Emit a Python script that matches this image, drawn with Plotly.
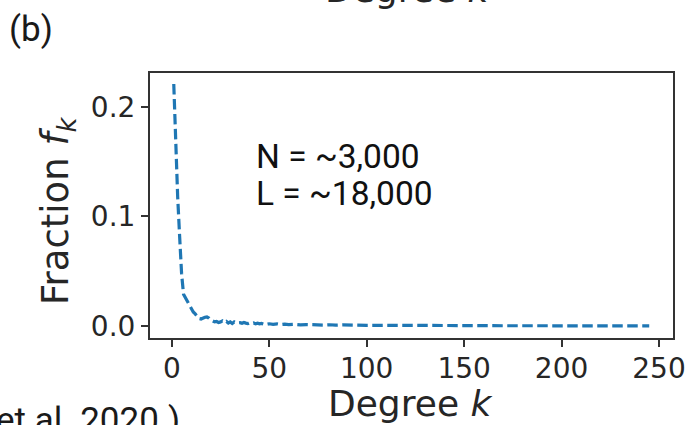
import plotly.graph_objects as go

# Degree distribution f_k of the network (fraction of nodes with degree k)
degree_k = [1, 2, 3, 4, 5, 6, 7, 8, 9, 10,
            11, 12, 13, 14, 15, 16, 17, 18, 19, 20,
            21, 22, 23, 24, 25, 26, 27, 28, 29, 30,
            31, 32, 33, 34, 35, 36, 37, 38, 39, 40,
            41, 42, 43, 44, 45, 46, 47, 48, 49, 50,
            52, 54, 56, 58, 60, 63, 66, 69, 72, 75,
            78, 81, 84, 88, 92, 96, 100, 110, 120, 130,
            140, 150, 160, 170, 180, 190, 200, 210, 220, 230, 245]
fraction_fk = [0.221, 0.162, 0.118, 0.082, 0.048, 0.029, 0.0255, 0.0224, 0.020, 0.0155,
               0.0128, 0.011, 0.009, 0.0068, 0.0064, 0.0073, 0.008, 0.0082, 0.0073, 0.0055,
               0.0046, 0.0037, 0.0041, 0.0032, 0.0037, 0.0046, 0.0032, 0.0041, 0.0027, 0.0037,
               0.0023, 0.0037, 0.0027, 0.0032, 0.0030, 0.0024, 0.0032, 0.0026, 0.0021, 0.0028,
               0.0022, 0.0027, 0.0020, 0.0025, 0.0019, 0.0023, 0.0017, 0.0022, 0.0016, 0.0020,
               0.0015, 0.0019, 0.0013, 0.0017, 0.0012, 0.0015, 0.0010, 0.0013, 0.0009, 0.0012,
               0.0008, 0.0011, 0.0007, 0.0010, 0.0006, 0.0008, 0.0005, 0.0006, 0.0004, 0.0004,
               0.0003, 0.0003, 0.0003, 0.0002, 0.0002, 0.0002, 0.0002, 0.0001, 0.0001, 0.0001, 0.0001]

x_ticks = [0, 50, 100, 150, 200, 250]
y_ticks = [0.0, 0.1, 0.2]
y_tick_text = ["0.0", "0.1", "0.2"]

network_stats = ["N = ~3,000", "L = ~18,000"]

W, H = 691, 425
L_M, R_M, T_M, B_M = 150, 18, 73, 87
PW, PH = W - L_M - R_M, H - T_M - B_M


def px_x(px):
    return (px - L_M) / PW


def px_y(py):
    return (H - B_M - py) / PH


AX_COLOR = "#333333"
TXT_COLOR = "#262626"
MPL_FONT = "DejaVu Sans"
SANS = "Roboto"

fig = go.Figure()
fig.add_trace(go.Scatter(
    x=degree_k, y=fraction_fk, mode="lines",
    line=dict(color="#1f77b4", width=3.2, dash="10.5px,4.5px"),
    showlegend=False, hoverinfo="skip",
))

axis_common = dict(
    showline=True, mirror=True, linecolor=AX_COLOR, linewidth=2,
    ticks="outside", ticklen=7, tickwidth=2, tickcolor=AX_COLOR,
    showgrid=False, zeroline=False,
    tickfont=dict(family=MPL_FONT, size=28, color=TXT_COLOR),
)

fig.update_xaxes(range=[-11.2, 257.2], tickvals=x_ticks, ticklabelstandoff=-3, **axis_common)
fig.update_yaxes(range=[-0.011, 0.231], tickvals=y_ticks, ticktext=y_tick_text, **axis_common)

annotations = [
    # axis titles
    dict(text="Degree <i>k</i>", x=px_x(410.5), y=px_y(403),
         font=dict(family=MPL_FONT, size=36, color=TXT_COLOR)),
    dict(text="Fraction <i>f</i><sub><i>k</i></sub>", x=px_x(58), y=px_y(211),
         textangle=-90, font=dict(family=MPL_FONT, size=37, color=TXT_COLOR)),
    # title of the panel above, mostly out of frame
    dict(text="Degree <i>k</i>", x=px_x(407), y=px_y(-10.5),
         font=dict(family=MPL_FONT, size=36, color=TXT_COLOR)),
    # panel label
    dict(text="(b)", x=px_x(7), y=px_y(29), xanchor="left",
         font=dict(family=SANS, size=35, color="#1a1a1a")),
    # network size
    dict(text=network_stats[0], x=px_x(253.5), y=px_y(156.5), xanchor="left",
         font=dict(family=SANS, size=33.5, color="#111111")),
    dict(text=network_stats[1], x=px_x(253.5), y=px_y(193.5), xanchor="left",
         font=dict(family=SANS, size=33.5, color="#111111")),
    # caption fragment at the bottom edge
    dict(text="et al. 2020.)", x=px_x(182), y=px_y(420), xanchor="right",
         font=dict(family=SANS, size=35, color="#1a1a1a")),
]
for a in annotations:
    a.setdefault("xanchor", "center")
    a.setdefault("yanchor", "middle")
    a.update(xref="paper", yref="paper", showarrow=False)

fig.update_layout(
    width=W, height=H,
    margin=dict(l=L_M, r=R_M, t=T_M, b=B_M, autoexpand=False),
    paper_bgcolor="white", plot_bgcolor="white",
    annotations=annotations,
)

fig.write_html("out.html")
